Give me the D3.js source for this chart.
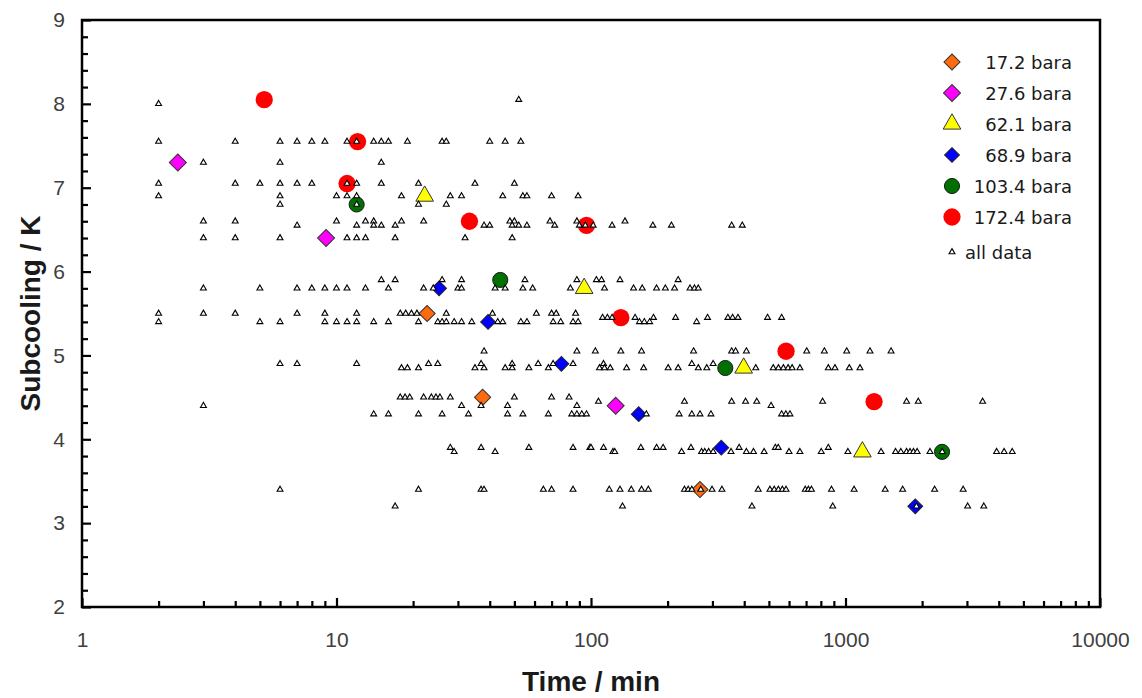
<!DOCTYPE html>
<html>
<head>
<meta charset="utf-8">
<script src="https://cdn.jsdelivr.net/npm/d3@7"></script>
<style>
  html, body { margin: 0; padding: 0; background: #ffffff; }
  svg { display: block; }
</style>
</head>
<body>
<svg id="chart" width="1142" height="698"></svg>
<script>
// ---- Highlighted runs, one pair of arrays per pressure ----
const p172Time = [22.7, 37.5, 268];
const p172Sub  = [5.5, 4.5, 3.4];
const p276Time = [2.38, 9.1, 125];
const p276Sub  = [7.3, 6.4, 4.4];
const p621Time = [22.2, 94, 398, 1165];
const p621Sub  = [6.9, 5.8, 4.85, 3.85];
const p689Time = [25.3, 39.4, 76.5, 154, 325, 1880];
const p689Sub  = [5.8, 5.4, 4.9, 4.3, 3.9, 3.2];
const p1034Time = [12.0, 44, 337, 2395];
const p1034Sub  = [6.8, 5.9, 4.85, 3.85];
const p1724Time = [5.2, 12.1, 11.0, 33.3, 96, 131, 584, 1295];
const p1724Sub  = [8.05, 7.55, 7.05, 6.6, 6.55, 5.45, 5.05, 4.45];

// ---- All measurements, grouped by subcooling level (K) with their times (min) ----
const allLevels = [8.05, 8.0, 7.55, 7.3, 7.05, 6.9, 6.8, 6.6, 6.55, 6.4, 5.9, 5.8, 5.5, 5.45, 5.4,
                   5.05, 4.9, 4.85, 4.5, 4.45, 4.4, 4.3, 3.9, 3.85, 3.4, 3.2];
const allTimes = [
  [52],
  [2],
  [2, 4, 6, 7, 8, 9, 11, 12, 14, 15, 16, 19, 26, 27, 40, 46, 53],
  [3, 6, 15],
  [2, 4, 5, 6, 7, 8, 11, 12, 15, 21, 35, 50],
  [2, 6, 10, 11, 12, 18, 28, 31, 45, 54, 56, 70, 89],
  [6, 12, 21, 27],
  [3, 4, 10, 13, 14, 18, 22, 48, 50, 69, 88, 136],
  [7, 12, 14, 15, 17, 38, 40, 49, 52, 56, 72, 90, 95, 102, 121, 175, 207, 357, 393],
  [3, 4, 6, 11, 12, 13, 17, 32, 49],
  [15, 17, 26, 31, 55, 88, 105, 110, 130, 220],
  [3, 5, 7, 8, 9, 10, 11, 13, 16, 22, 24, 30, 31, 42, 46, 54, 59, 83, 113, 147, 159, 181, 196, 213, 245, 255, 264],
  [2, 3, 4, 7, 9, 12, 17.8, 18.7, 19.7, 20.7, 27, 41, 61, 70, 73, 87],
  [111, 116, 121, 149, 176, 215, 287, 345, 360, 378, 494, 561],
  [2, 5, 6, 9, 10, 11, 12, 14, 16, 21, 25, 26, 27, 29, 31, 34, 43, 45, 53, 56, 71, 76, 85, 89, 155, 162, 170, 260],
  [38, 88, 104, 131, 158, 253, 357, 370, 408, 704, 826, 1011, 1248, 1510],
  [6, 7, 12, 23, 25, 37, 49, 62, 71, 85, 112, 249, 302],
  [18, 19, 21, 35, 38, 46, 49, 57, 68, 108, 113, 119, 138, 161, 201, 220, 264, 285, 444, 520, 545, 570, 595, 617, 662, 856, 909, 1035, 1140],
  [17.8, 18.6, 19.4, 22, 23.6, 24.6, 25.5, 28, 50, 70, 82],
  [107, 233, 357, 405, 448, 813, 1738, 1932, 3459],
  [3, 31, 37, 47, 88, 510],
  [14, 16, 21, 26, 33, 47, 54, 68, 84, 88, 92, 96, 165, 222, 249, 268, 296, 561, 583, 605],
  [28, 37, 57, 85, 99, 100, 112, 157, 181, 192, 247, 382, 530, 544, 856],
  [29, 42, 122, 124, 227, 272, 280, 290, 302, 355, 408, 435, 479, 600, 662, 803, 1022, 1380, 1573, 1650, 1738, 1793, 1850, 1912, 2148, 2400, 3925, 4200, 4520],
  [6, 21, 37, 38, 65, 70, 85, 118, 130, 144, 158, 168, 233, 241, 249, 270, 299, 327, 454, 505, 525, 545, 565, 584, 695, 715, 735, 881, 1081, 1432, 1678, 2240, 2900],
  [17, 133, 429, 891, 1900, 3020, 3495]
];

// ---- Axis ticks and legend labels ----
const xMajorTicks = [1, 10, 100, 1000, 10000];
const yMajorTicks = [2, 3, 4, 5, 6, 7, 8, 9];
const seriesLabels = ["17.2 bara", "27.6 bara", "62.1 bara", "68.9 bara", "103.4 bara", "172.4 bara", "all data"];

// ---- Layout ----
const plot = { left: 82, right: 1100, top: 20, bottom: 607 };
const svg = d3.select("#chart");

const x = d3.scaleLog().domain([1, 10000]).range([plot.left, plot.right]);
const y = d3.scaleLinear().domain([2, 9]).range([plot.bottom, plot.top]);

const tickFont = "'Liberation Sans', Arial, sans-serif";
const tickColor = "#404040";

// Minor ticks: 2..9 in each decade, and every 0.2 K
const xMinor = [];
for (let d = 1; d < 10000; d *= 10) for (let m = 2; m <= 9; m++) xMinor.push(d * m);
const yMinor = d3.range(2, 9.001, 0.2).filter(v => Math.abs(v - Math.round(v)) > 1e-6);

function styleAxis(g) {
  g.select(".domain").remove();
  g.selectAll(".tick line").attr("stroke", "#000").attr("stroke-width", 2.2);
  g.selectAll(".tick text").attr("fill", tickColor)
    .style("font-family", tickFont).style("font-size", "21px");
}

// x axis, ticks pointing into the plot
svg.append("g").attr("transform", `translate(0,${plot.bottom})`)
  .call(d3.axisBottom(x).tickValues(xMinor).tickFormat("").tickSize(-6))
  .call(styleAxis);
svg.append("g").attr("transform", `translate(0,${plot.bottom})`)
  .call(d3.axisBottom(x).tickValues(xMajorTicks).tickFormat(d3.format("d")).tickSizeInner(-9).tickPadding(25))
  .call(styleAxis);

// y axis
svg.append("g").attr("transform", `translate(${plot.left},0)`)
  .call(d3.axisLeft(y).tickValues(yMinor).tickFormat("").tickSize(-6))
  .call(styleAxis);
svg.append("g").attr("transform", `translate(${plot.left},0)`)
  .call(d3.axisLeft(y).tickValues(yMajorTicks).tickFormat(d3.format("d")).tickSizeInner(-9).tickPadding(17))
  .call(styleAxis);

// Plot frame
svg.append("rect")
  .attr("x", plot.left).attr("y", plot.top)
  .attr("width", plot.right - plot.left).attr("height", plot.bottom - plot.top)
  .attr("fill", "none").attr("stroke", "#000").attr("stroke-width", 2.5);

// Axis titles
svg.append("text")
  .attr("x", (plot.left + plot.right) / 2).attr("y", 691)
  .attr("text-anchor", "middle")
  .style("font-family", tickFont).style("font-size", "28px").style("font-weight", "bold")
  .attr("fill", "#1a1a1a")
  .text("Time / min");
svg.append("text")
  .attr("transform", `translate(40,${(plot.top + plot.bottom) / 2}) rotate(-90)`)
  .attr("text-anchor", "middle")
  .style("font-family", tickFont).style("font-size", "28px").style("font-weight", "bold")
  .attr("fill", "#1a1a1a")
  .text("Subcooling / K");

// Marker styles per series
const diamond = d3.symbolSquare;
const seriesStyles = [
  { t: p172Time,  s: p172Sub,  type: diamond, size: 130, rot: 45, fill: "#ff6a0e", stroke: "#333", sw: 1 },
  { t: p276Time,  s: p276Sub,  type: diamond, size: 145, rot: 45, fill: "#ff00ff", stroke: "#333", sw: 1 },
  { t: p621Time,  s: p621Sub,  type: d3.symbolTriangle, size: 135, rot: 0, fill: "#ffff00", stroke: "#333", sw: 1 },
  { t: p689Time,  s: p689Sub,  type: diamond, size: 110, rot: 45, fill: "#0000ff", stroke: "#222", sw: 1 },
  { t: p1034Time, s: p1034Sub, type: d3.symbolCircle, size: 180, rot: 0, fill: "#007100", stroke: "#1a1a1a", sw: 1 },
  { t: p1724Time, s: p1724Sub, type: d3.symbolCircle, size: 235, rot: 0, fill: "#ff0000", stroke: "none", sw: 0 }
];
const smallStyle = { type: d3.symbolTriangle, size: 15, fill: "#ffffff", stroke: "#000", sw: 1.1 };

const marks = svg.append("g");
seriesStyles.forEach(st => {
  marks.append("g").selectAll("path")
    .data(d3.range(st.t.length))
    .join("path")
    .attr("d", d3.symbol().type(st.type).size(st.size))
    .attr("transform", i => `translate(${x(st.t[i])},${y(st.s[i])}) rotate(${st.rot})`)
    .attr("fill", st.fill).attr("stroke", st.stroke).attr("stroke-width", st.sw);
});

// All data on top
const allPoints = [];
allLevels.forEach((lv, r) => allTimes[r].forEach(t => allPoints.push([t, lv])));
marks.append("g").selectAll("path")
  .data(allPoints)
  .join("path")
  .attr("d", d3.symbol().type(smallStyle.type).size(smallStyle.size))
  .attr("transform", d => `translate(${x(d[0])},${y(d[1])})`)
  .attr("fill", smallStyle.fill).attr("stroke", smallStyle.stroke).attr("stroke-width", smallStyle.sw);

// Legend
const legendFont = "'DejaVu Sans', Verdana, sans-serif";
const legendRows = [62, 93, 124, 155, 186, 217, 252];
const legendStyles = seriesStyles.concat([smallStyle]);
const legend = svg.append("g");
legendStyles.forEach((st, i) => {
  legend.append("path")
    .attr("d", d3.symbol().type(st.type).size(st.size))
    .attr("transform", `translate(952,${legendRows[i]}) rotate(${st.rot || 0})`)
    .attr("fill", st.fill).attr("stroke", st.stroke).attr("stroke-width", st.sw);
  const last = i === legendStyles.length - 1;
  legend.append("text")
    .attr("x", last ? 965 : 1072).attr("y", legendRows[i] + 7)
    .attr("text-anchor", last ? "start" : "end")
    .style("font-family", legendFont).style("font-size", "18px")
    .attr("fill", "#1a1a1a")
    .text(seriesLabels[i]);
});
</script>
</body>
</html>
